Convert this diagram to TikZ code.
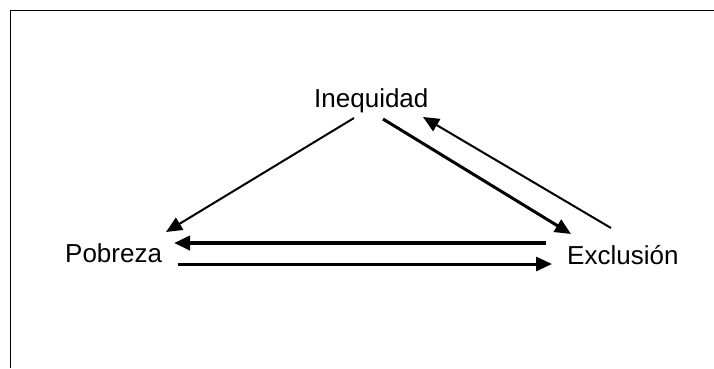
\documentclass[tikz,border=0pt]{standalone}
\usepackage{fontspec}
\setmainfont{Liberation Sans}
\usetikzlibrary{arrows.meta,calc}
\begin{document}
\begin{tikzpicture}[x=1pt,y=1pt,
  lbl/.style={anchor=base west,inner sep=0pt,font=\fontsize{26}{31}\selectfont},
  conn/.style={-{Triangle[length=16pt,width=14pt]}},
  thinc/.style={conn,line width=2pt},
  thickc/.style={conn,line width=3pt},
  frame/.style={line width=1.8pt}]
\useasboundingbox (0,0) rectangle (714,-368);
\draw[frame] (714,-10.5) -- (10.5,-10.5) -- (10.5,-368);
\node[lbl] (ineq) at (314,-107) {Inequidad};
\node[lbl] (pob) at (65,-262) {Pobreza};
\node[lbl] (excl) at (567,-264) {Exclusión};
\draw[thinc] ($(ineq.base west)+(40,-11)$) -- ($(pob.base west)+(101,30)$);
\draw[thickc] ($(ineq.base west)+(69,-12)$) -- ($(excl.base west)+(4,30)$);
\draw[thinc] ($(excl.base west)+(44,36)$) -- ($(ineq.base west)+(109,-10)$);
\draw[conn,line width=3.8pt] ($(excl.base west)+(-21,21)$) -- ($(pob.base west)+(109,19)$);
\draw[thickc] ($(pob.base west)+(113,-2)$) -- ($(excl.base west)+(-15,0)$);
\end{tikzpicture}
\end{document}
